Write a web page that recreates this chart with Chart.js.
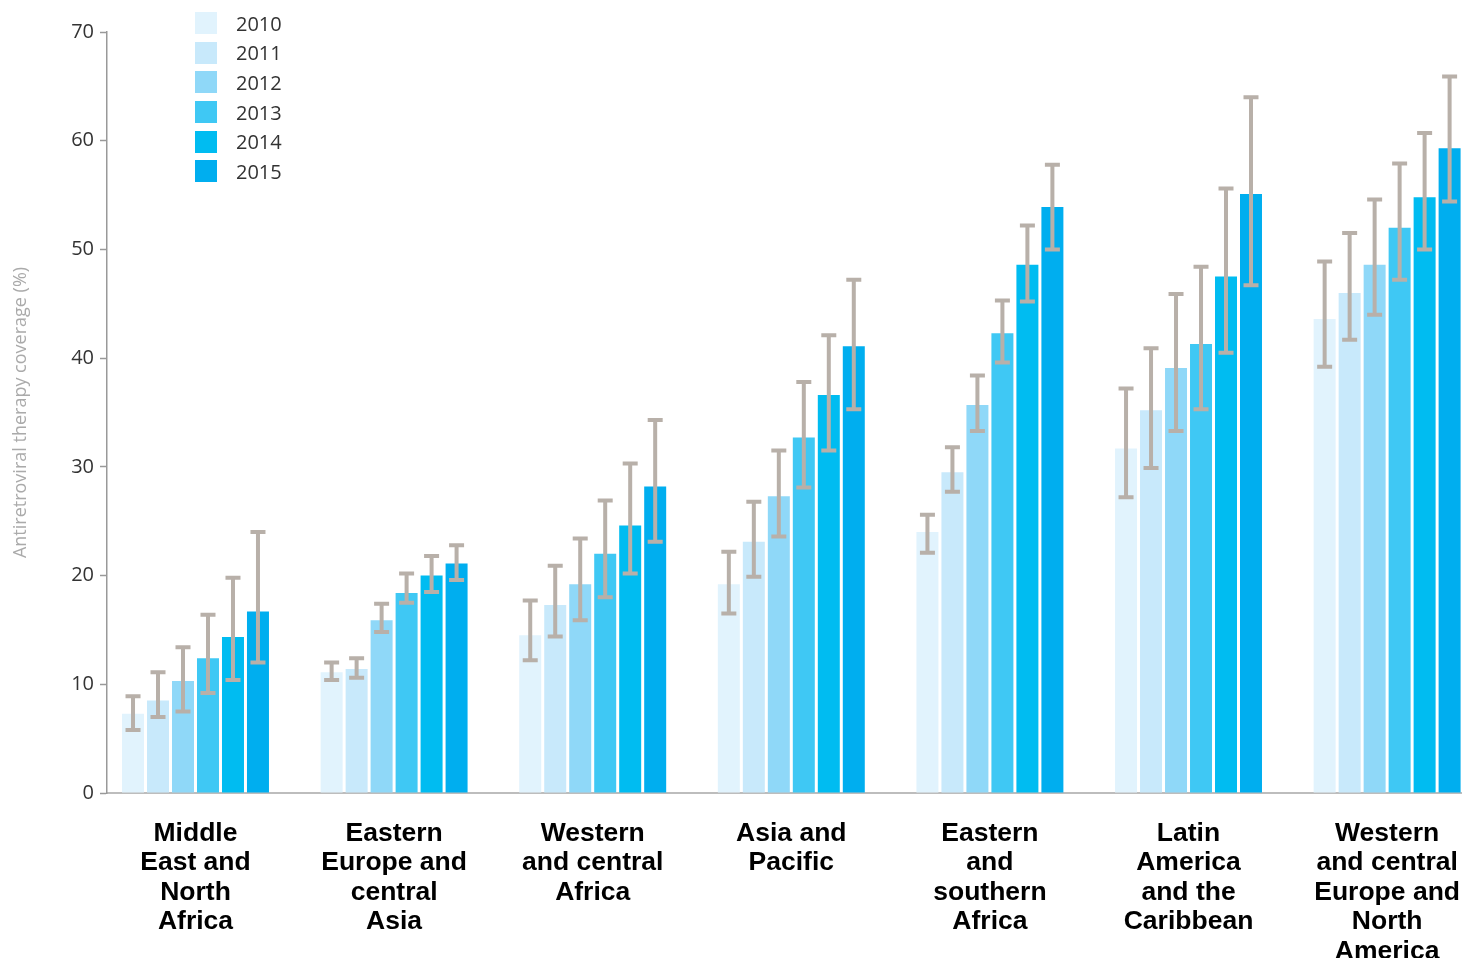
<!DOCTYPE html>
<html>
<head>
<meta charset="utf-8">
<script src="https://cdn.jsdelivr.net/npm/chart.js@4"></script>
<style>
  html, body { margin: 0; padding: 0; background: #fff; overflow: hidden; }
  #wrap { position: relative; width: 1462px; height: 958px; }
  #legend { position: absolute; left: 195px; top: 12px; font-family: "Open Sans", "Noto Sans", sans-serif; font-size: 20px; color: #333; }
  .item { display: flex; align-items: center; height: 22px; margin-bottom: 7.7px; }
  .box { width: 22px; height: 22px; margin-right: 19px; }
</style>
</head>
<body>
<div id="wrap">
  <canvas id="c" width="1462" height="958"></canvas>
  <div id="legend"></div>
</div>
<script>
const regions = [
  ["Middle", "East and", "North", "Africa"],
  ["Eastern", "Europe and", "central", "Asia"],
  ["Western", "and central", "Africa"],
  ["Asia and", "Pacific"],
  ["Eastern", "and", "southern", "Africa"],
  ["Latin", "America", "and the", "Caribbean"],
  ["Western", "and central", "Europe and", "North", "America"]
];
const years = ["2010", "2011", "2012", "2013", "2014", "2015"];
const yearColors = ["#e1f3fd", "#c8e9fb", "#8fd8f8", "#3fc8f4", "#00bcf1", "#00aeef"];
const yTicks = [0, 10, 20, 30, 40, 50, 60, 70];

// coverage (%) per region, one array per year
const cov2010 = [7.3, 11.1, 14.5, 19.2, 24.0, 31.7, 43.6];
const cov2011 = [8.5, 11.4, 17.3, 23.1, 29.5, 35.2, 46.0];
const cov2012 = [10.3, 15.9, 19.2, 27.3, 35.7, 39.1, 48.6];
const cov2013 = [12.4, 18.4, 22.0, 32.7, 42.3, 41.3, 52.0];
const cov2014 = [14.35, 20.0, 24.6, 36.6, 48.6, 47.5, 54.8];
const cov2015 = [16.7, 21.1, 28.2, 41.1, 53.9, 55.1, 59.3];

// uncertainty bounds
const low2010 = [5.8, 10.4, 12.2, 16.5, 22.1, 27.2, 39.2];
const low2011 = [7.0, 10.6, 14.4, 19.9, 27.7, 29.9, 41.7];
const low2012 = [7.5, 14.8, 15.9, 23.6, 33.3, 33.3, 44.0];
const low2013 = [9.2, 17.5, 18.0, 28.1, 39.6, 35.3, 47.2];
const low2014 = [10.4, 18.5, 20.2, 31.5, 45.2, 40.5, 50.0];
const low2015 = [12.0, 19.6, 23.1, 35.3, 50.0, 46.7, 54.4];

const high2010 = [8.9, 12.0, 17.7, 22.2, 25.6, 37.2, 48.9];
const high2011 = [11.1, 12.4, 20.9, 26.8, 31.8, 40.9, 51.5];
const high2012 = [13.4, 17.4, 23.4, 31.5, 38.4, 45.9, 54.6];
const high2013 = [16.4, 20.2, 26.9, 37.8, 45.3, 48.4, 57.9];
const high2014 = [19.8, 21.8, 30.3, 42.1, 52.2, 55.6, 60.7];
const high2015 = [24.0, 22.8, 34.3, 47.2, 57.8, 64.0, 65.9];

const covs = [cov2010, cov2011, cov2012, cov2013, cov2014, cov2015];
const lows = [low2010, low2011, low2012, low2013, low2014, low2015];
const highs = [high2010, high2011, high2012, high2013, high2014, high2015];

const datasets = years.map((y, k) => ({
  label: y,
  data: covs[k].map((v, i) => ({ x: i, y: v })),
  low: lows[k],
  high: highs[k],
  backgroundColor: yearColors[k],
  borderWidth: 0,
  categoryPercentage: 0.755,
  barPercentage: 0.88
}));

const errorBars = {
  id: 'errorBars',
  afterDatasetsDraw(chart) {
    const ctx = chart.ctx;
    const ys = chart.scales.y;
    ctx.save();
    ctx.strokeStyle = '#b8b0a9';
    ctx.lineWidth = 4;
    ctx.lineCap = 'butt';
    chart.data.datasets.forEach((ds, di) => {
      const meta = chart.getDatasetMeta(di);
      meta.data.forEach((bar, i) => {
        const x = bar.x;
        const yl = ys.getPixelForValue(ds.low[i]);
        const yh = ys.getPixelForValue(ds.high[i]);
        const cap = 7.5;
        ctx.beginPath();
        ctx.moveTo(x, yl); ctx.lineTo(x, yh);
        ctx.moveTo(x - cap, yl); ctx.lineTo(x + cap, yl);
        ctx.moveTo(x - cap, yh); ctx.lineTo(x + cap, yh);
        ctx.stroke();
      });
    });
    ctx.restore();
  }
};

const chart = new Chart(document.getElementById('c'), {
  type: 'bar',
  data: { datasets },
  plugins: [errorBars],
  options: {
    responsive: false,
    animation: false,
    layout: { padding: { top: 32, right: 0, bottom: 0, left: 0 } },
    plugins: { legend: { display: false }, tooltip: { enabled: false } },
    scales: {
      x: {
        type: 'linear',
        min: -0.4456,
        max: 6.377,
        offset: false,
        grid: { display: false, drawTicks: false },
        border: { display: true, color: '#bdbdbd', width: 2 },
        afterBuildTicks(scale) { scale.ticks = regions.map((r, i) => ({ value: i })); },
        afterFit(scale) { scale.height = 958 - 793; scale.paddingLeft = 0; scale.paddingRight = 0; },
        ticks: {
          autoSkip: false,
          maxRotation: 0,
          padding: 26,
          color: '#000',
          font: { family: 'Arial, "Liberation Sans", sans-serif', size: 26.5, weight: 'bold', lineHeight: 1.11 },
          callback: (v) => regions[v] || ''
        }
      },
      y: {
        min: 0,
        max: 70,
        afterBuildTicks(scale) { scale.ticks = yTicks.map(v => ({ value: v })); },
        afterFit(scale) { scale.width = 107; },
        grid: { drawOnChartArea: false, drawTicks: true, tickLength: 7, color: '#999', tickWidth: 1.5 },
        border: { display: true, color: '#999', width: 1.5 },
        ticks: {
          padding: 6,
          color: '#333',
          font: { family: '"Open Sans", "Noto Sans", sans-serif', size: 20 }
        },
        title: {
          display: true,
          text: 'Antiretroviral therapy coverage (%)',
          color: '#aaa',
          font: { family: '"Open Sans", "Noto Sans", sans-serif', size: 18 },
          padding: { top: 10, bottom: 0 }
        }
      }
    }
  }
});

const legend = document.getElementById('legend');
chart.data.datasets.forEach(ds => {
  const item = document.createElement('div');
  item.className = 'item';
  const box = document.createElement('span');
  box.className = 'box';
  box.style.background = ds.backgroundColor;
  const txt = document.createElement('span');
  txt.textContent = ds.label;
  item.appendChild(box);
  item.appendChild(txt);
  legend.appendChild(item);
});
</script>
</body>
</html>
